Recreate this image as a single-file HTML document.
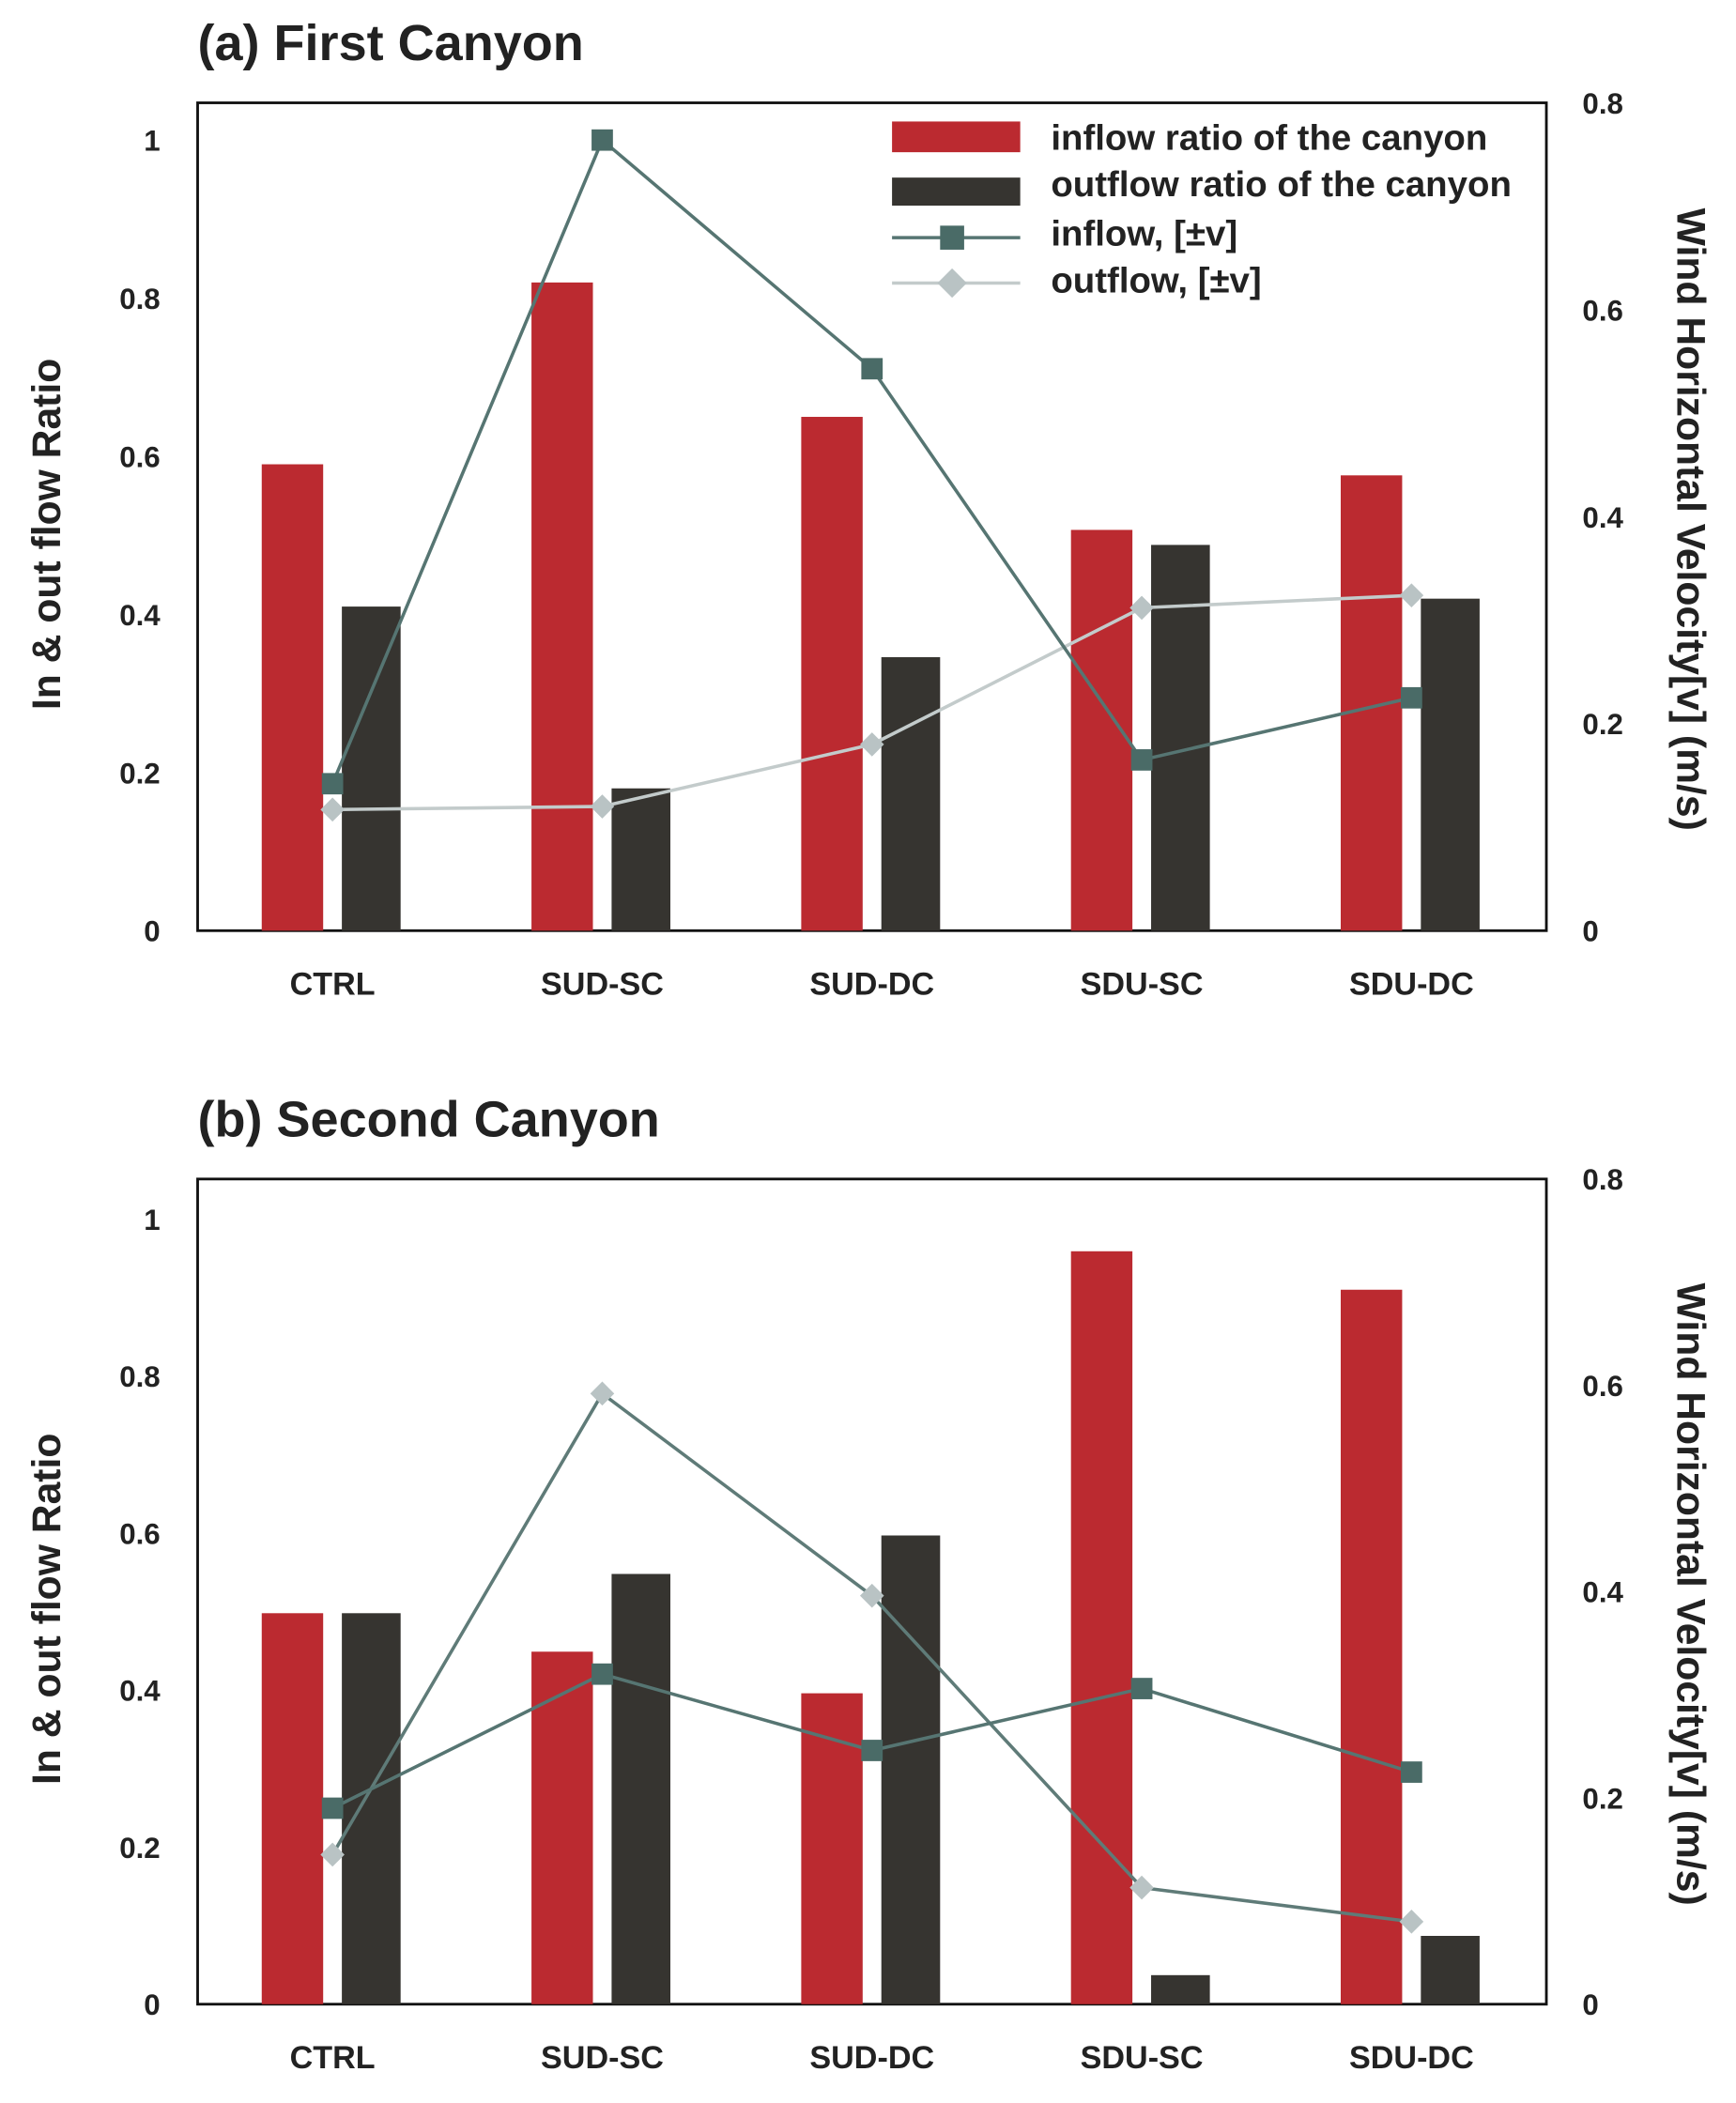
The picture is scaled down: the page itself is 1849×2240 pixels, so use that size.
<!DOCTYPE html>
<html><head><meta charset="utf-8"><style>
html,body{margin:0;padding:0;background:#fff;}
svg{display:block;}
text{font-family:"Liberation Sans",sans-serif;font-weight:bold;fill:#222;}
</style></head><body>
<svg id="chart" width="1849" height="2240" viewBox="0 0 1300 1575" preserveAspectRatio="none" xmlns="http://www.w3.org/2000/svg"></svg>
<script>
const categories = ["CTRL","SUD-SC","SUD-DC","SDU-SC","SDU-DC"];
const leftTicks = [0,0.2,0.4,0.6,0.8,1];
const rightTicks = [0,0.2,0.4,0.6,0.8];
const inflowRatioA = [0.59,0.82,0.65,0.507,0.576];
const outflowRatioA = [0.41,0.18,0.346,0.488,0.42];
const inflowVelA = [0.142,0.764,0.543,0.165,0.225];
const outflowVelA = [0.117,0.12,0.18,0.312,0.324];
const inflowRatioB = [0.498,0.449,0.396,0.959,0.91];
const outflowRatioB = [0.498,0.548,0.597,0.037,0.087];
const inflowVelB = [0.19,0.32,0.246,0.306,0.225];
const outflowVelB = [0.145,0.592,0.396,0.113,0.08];

const svg = document.getElementById('chart');
const NS = "http://www.w3.org/2000/svg";
function mk(tag, attrs, parent){
  const e = document.createElementNS(NS, tag);
  for (const k in attrs) e.setAttribute(k, attrs[k]);
  (parent||svg).appendChild(e);
  return e;
}
function fmt(v){ return v===0?"0":String(v); }

function drawPanel(cfg){
  const g = mk('g', {});
  
  
  const L=148, R=1158, top=cfg.top, bot=cfg.bot;
  const yL = v => bot - v*cfg.unitL;
  const yR = v => bot - v/0.8*(bot-top);
  const band = (R-L)/categories.length;
  const cx = i => L + band*(i+0.5);

  const title = mk('text', {x:148, y:top-32, 'font-size':38}, g);
  title.textContent = cfg.title;
  
  

  const frame = mk('rect', {x:L, y:top, width:R-L, height:bot-top, fill:'none', stroke:'#111', 'stroke-width':2}, g);
  
  

  leftTicks.forEach(t => {
    const tx = mk('text', {x:120, y:yL(t)+8, 'font-size':22, 'text-anchor':'end'}, g);
    tx.textContent = fmt(t);
    
    
  });
  rightTicks.forEach(t => {
    const tx = mk('text', {x:1185, y:yR(t)+8, 'font-size':22}, g);
    tx.textContent = fmt(t);
    
    
  });
  categories.forEach((c,i) => {
    const tx = mk('text', {x:cx(i), y:bot+48, 'font-size':24, 'text-anchor':'middle'}, g);
    tx.textContent = c;
    
    
  });
  const mid = (top+bot)/2;
  const lt = mk('text', {x:0, y:0, 'font-size':30, 'text-anchor':'middle', transform:`translate(45,${mid+13}) rotate(-90)`}, g);
  lt.textContent = "In & out flow Ratio";
  
  
  const rt = mk('text', {x:0, y:0, 'font-size':30, 'text-anchor':'middle', transform:`translate(1256,${mid+2}) rotate(90)`}, g);
  rt.textContent = "Wind Horizontal Velocity[v] (m/s)";
  
  

  const bw = 46;
  categories.forEach((c,i) => {
    const r = mk('rect', {x:cx(i)-53, y:yL(cfg.inR[i]), width:bw, height:bot-yL(cfg.inR[i]), fill:'#bb2a30'}, g);
    
    
    const d = mk('rect', {x:cx(i)+7, y:yL(cfg.outR[i]), width:44, height:bot-yL(cfg.outR[i]), fill:'#363430'}, g);
    
    
  });

  const ptsOut = cfg.outV.map((v,i)=>`${cx(i)},${yR(v)}`).join(' ');
  const lo = mk('polyline', {points:ptsOut, fill:'none', stroke:cfg.outLine, 'stroke-width':2.5}, g);
  
  
  const ptsIn = cfg.inV.map((v,i)=>`${cx(i)},${yR(v)}`).join(' ');
  const li = mk('polyline', {points:ptsIn, fill:'none', stroke:'#567572', 'stroke-width':2.5}, g);
  
  
  cfg.outV.forEach((v,i) => {
    const x=cx(i), y=yR(v);
    const p = mk('polygon', {points:`${x},${y-9} ${x+9},${y} ${x},${y+9} ${x-9},${y}`, fill:'#b9c3c4'}, g);
    
    
  });
  cfg.inV.forEach((v,i) => {
    const x=cx(i), y=yR(v);
    const p = mk('rect', {x:x-8, y:y-8, width:16, height:16, fill:'#4a6b67'}, g);
    
    
  });

  if (cfg.legend){
    const lg = mk('g', {}, g);
    
    
    const e1 = mk('rect', {x:668, y:91, width:96, height:23, fill:'#bb2a30'}, lg);
    
    
    const e2 = mk('rect', {x:668, y:133, width:96, height:21, fill:'#363430'}, lg);
    
    
    mk('line', {x1:668, x2:764, y1:178, y2:178, stroke:'#567572', 'stroke-width':2.5}, lg);
    mk('rect', {x:704, y:169, width:18, height:18, fill:'#4a6b67'}, lg);
    mk('line', {x1:668, x2:764, y1:212, y2:212, stroke:'#c3cbcb', 'stroke-width':2.5}, lg);
    mk('polygon', {points:'713,201 724,212 713,223 702,212', fill:'#b9c3c4'}, lg);
    const labels = ["inflow ratio of the canyon","outflow ratio of the canyon","inflow, [±v]","outflow, [±v]"];
    const ys = [112,147,184,219];
    labels.forEach((s,k) => {
      const t = mk('text', {x:787, y:ys[k], 'font-size':27}, lg);
      t.textContent = s;
      
      
    });
  }
}

drawPanel({name:'panel-first-canyon', title:'(a) First Canyon', top:77, bot:697, unitL:592,
  inR:inflowRatioA, outR:outflowRatioA, inV:inflowVelA, outV:outflowVelA, legend:true, outLine:'#c3cbcb'});
drawPanel({name:'panel-second-canyon', title:'(b) Second Canyon', top:883, bot:1501, unitL:588,
  inR:inflowRatioB, outR:outflowRatioB, inV:inflowVelB, outV:outflowVelB, legend:false, outLine:'#5f7b78'});
</script>
</body></html>
